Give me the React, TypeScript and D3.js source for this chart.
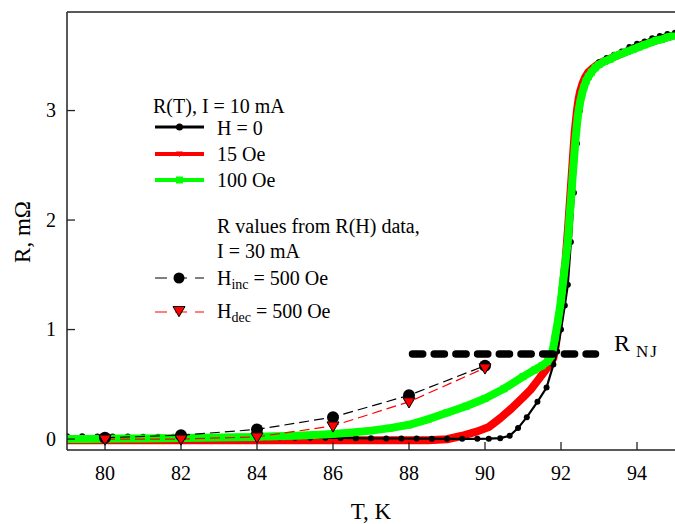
import React from "react";
import * as d3 from "d3";

type P = [number, number];

const xTicks = [80, 82, 84, 86, 88, 90, 92, 94];
const yTicks = [0, 1, 2, 3];

// H = 0, I = 10 mA
const seriesH0: P[] = [
  [79.0, 0.025], [79.4, 0.025], [79.8, 0.024], [80.2, 0.024], [80.6, 0.023], [81.0, 0.022],
  [81.4, 0.022], [81.8, 0.021], [82.2, 0.02], [82.6, 0.019], [83.0, 0.018], [83.4, 0.017],
  [83.8, 0.016], [84.2, 0.015], [84.6, 0.014], [85.0, 0.013], [85.4, 0.012], [85.8, 0.011],
  [86.2, 0.01], [86.6, 0.008], [87.0, 0.007], [87.4, 0.006], [87.8, 0.005], [88.2, 0.004],
  [88.6, 0.003], [89.0, 0.002], [89.4, 0.002], [89.8, 0.002], [90.1, 0.003], [90.4, 0.008],
  [90.65, 0.03], [90.87, 0.1], [91.1, 0.2], [91.38, 0.34], [91.62, 0.47], [91.8, 0.68],
  [91.9, 0.8], [92.0, 1.0], [92.1, 1.22], [92.18, 1.41], [92.26, 1.8], [92.34, 2.25],
  [92.42, 2.7], [92.5, 3.0], [92.6, 3.2], [92.7, 3.3], [92.85, 3.38], [93.0, 3.44],
  [93.2, 3.48], [93.4, 3.51], [93.6, 3.54], [93.8, 3.58], [94.0, 3.61], [94.2, 3.63],
  [94.4, 3.66], [94.6, 3.68], [94.8, 3.7], [95.0, 3.71],
];

// 15 Oe
const series15: P[] = [
  [79.0, -0.012], [79.5, -0.012], [80.0, -0.012], [80.5, -0.012], [81.0, -0.012], [81.5, -0.012],
  [82.0, -0.012], [82.5, -0.012], [83.0, -0.012], [83.5, -0.012], [84.0, -0.012], [84.5, -0.012],
  [85.0, -0.012], [85.5, -0.012], [86.0, -0.012], [86.5, -0.012], [87.0, -0.012], [87.5, -0.012],
  [88.0, -0.012], [88.5, -0.01], [89.0, -0.002], [89.4, 0.03], [89.8, 0.07], [90.1, 0.11],
  [90.4, 0.19], [90.7, 0.28], [91.0, 0.38], [91.2, 0.45], [91.4, 0.54], [91.55, 0.61],
  [91.7, 0.68], [91.8, 0.74], [91.86, 0.85], [91.9, 0.95], [91.94, 1.05], [91.97, 1.14],
  [92.0, 1.23], [92.03, 1.33], [92.06, 1.43], [92.09, 1.53], [92.12, 1.63], [92.14, 1.72],
  [92.16, 1.81], [92.18, 1.9], [92.2, 2.0], [92.22, 2.1], [92.24, 2.2], [92.26, 2.3],
  [92.28, 2.4], [92.3, 2.5], [92.32, 2.6], [92.34, 2.7], [92.36, 2.8], [92.39, 2.9],
  [92.42, 3.0], [92.46, 3.1], [92.5, 3.17], [92.56, 3.24], [92.63, 3.3], [92.72, 3.35],
  [92.85, 3.39], [93.0, 3.43], [93.2, 3.46], [93.4, 3.49], [93.6, 3.52], [93.8, 3.55],
  [94.0, 3.58], [94.2, 3.61], [94.4, 3.63], [94.6, 3.65], [94.8, 3.67], [95.0, 3.69],
];

// 100 Oe
const series100: P[] = [
  [79.0, 0.0], [79.5, 0.001], [80.0, 0.003], [80.5, 0.004], [81.0, 0.006], [81.5, 0.008],
  [82.0, 0.01], [82.5, 0.012], [83.0, 0.014], [83.5, 0.017], [84.0, 0.02], [84.5, 0.025],
  [85.0, 0.03], [85.5, 0.037], [86.0, 0.047], [86.5, 0.06], [87.0, 0.077], [87.5, 0.1],
  [88.0, 0.13], [88.5, 0.18], [89.0, 0.24], [89.5, 0.3], [90.0, 0.37], [90.5, 0.46],
  [91.0, 0.57], [91.3, 0.63], [91.5, 0.67], [91.65, 0.71], [91.74, 0.76], [91.8, 0.84],
  [91.84, 0.92], [91.88, 1.0], [91.92, 1.08], [91.96, 1.17], [92.0, 1.27], [92.03, 1.36],
  [92.06, 1.45], [92.09, 1.54], [92.12, 1.63], [92.15, 1.72], [92.18, 1.81], [92.2, 1.9],
  [92.22, 2.0], [92.24, 2.09], [92.26, 2.18], [92.28, 2.27], [92.3, 2.37], [92.32, 2.46],
  [92.34, 2.55], [92.36, 2.64], [92.38, 2.73], [92.41, 2.84], [92.44, 2.94], [92.47, 3.01],
  [92.5, 3.07], [92.55, 3.15], [92.6, 3.21], [92.66, 3.27], [92.72, 3.31], [92.8, 3.35],
  [92.9, 3.39], [93.0, 3.42], [93.15, 3.45], [93.3, 3.47], [93.45, 3.5], [93.6, 3.52],
  [93.75, 3.54], [93.9, 3.56], [94.05, 3.58], [94.2, 3.6], [94.35, 3.62], [94.5, 3.64],
  [94.65, 3.65], [94.8, 3.67], [94.95, 3.68],
];

// R values from R(H) data, I = 30 mA
const hIncT = [80, 82, 84, 86, 88, 90];
const hIncR = [0.012, 0.035, 0.088, 0.2, 0.4, 0.67];
const hDecT = [80, 82, 84, 86, 88, 90];
const hDecR = [0.0, 0.0, 0.02, 0.12, 0.34, 0.65];

// R_NJ level
const rnjValue = 0.776;
const rnjRange = [88, 93];

const W = 675;
const H = 524;
const left = 67;
const right = 675;
const top = 12;
const bottom = 450;
const FONT = "'Liberation Serif', 'Times New Roman', Times, serif";

export default function App() {
  const x = d3.scaleLinear().domain([79, 95]).range([left, right]);
  const y = d3.scaleLinear().domain([-0.1, 3.9]).range([bottom, top]);
  const line = d3
    .line<P>()
    .x((d) => x(d[0]))
    .y((d) => y(d[1]));

  const inc: P[] = hIncT.map((t, i) => [t, hIncR[i]]);
  const dec: P[] = hDecT.map((t, i) => [t, hDecR[i]]);

  const tri = (cx: number, cy: number, s: number) =>
    `M${cx - s},${cy - s * 0.75}L${cx + s},${cy - s * 0.75}L${cx},${cy + s * 0.95}Z`;

  const legendX1 = 155;
  const legendX2 = 204;
  const legendMid = (legendX1 + legendX2) / 2;
  const textX = 217;

  return (
    <svg
      width={W}
      height={H}
      style={{ position: "absolute", left: 0, top: 0, background: "#fff" }}
      fontFamily={FONT}
    >
      <defs>
        <clipPath id="plot">
          <rect x={left} y={top} width={right - left + 10} height={bottom - top} />
        </clipPath>
      </defs>

      {/* data */}
      <g clipPath="url(#plot)">
        {/* 15 Oe */}
        <path d={line(series15) || ""} fill="none" stroke="#ff0000" strokeWidth={8} strokeLinejoin="round" />
        {series15.map((d, i) => (
          <path key={"r" + i} d={tri(x(d[0]), y(d[1]), 3.2)} fill="#ff0000" />
        ))}
        {/* H = 0 */}
        <path d={line(seriesH0) || ""} fill="none" stroke="#000" strokeWidth={2.2} />
        {seriesH0.map((d, i) => (
          <circle key={"b" + i} cx={x(d[0])} cy={y(d[1])} r={3} fill="#000" />
        ))}
        {/* 100 Oe */}
        <path d={line(series100) || ""} fill="none" stroke="#00ff00" strokeWidth={8} strokeLinejoin="round" />
        {series100.map((d, i) => (
          <rect key={"g" + i} x={x(d[0]) - 3.5} y={y(d[1]) - 3.5} width={7} height={7} fill="#00ff00" />
        ))}
      </g>

      {/* R_NJ */}
      <line
        x1={x(rnjRange[0]) + 3.5}
        x2={x(rnjRange[1]) - 3.5}
        y1={y(rnjValue)}
        y2={y(rnjValue)}
        stroke="#000"
        strokeWidth={7.5}
        strokeLinecap="round"
        strokeDasharray="10.2 11.5"
      />
      <text x={614} y={351} fontSize={24} fill="#000">
        R
      </text>
      <text x={636} y={357} fontSize={17} fill="#000" letterSpacing={2}>
        NJ
      </text>

      {/* R(H) data */}
      <path d={line(inc) || ""} fill="none" stroke="#000" strokeWidth={1.2} strokeDasharray="10 5" />
      <path d={line(dec) || ""} fill="none" stroke="#ff0000" strokeWidth={1.2} strokeDasharray="10 5" />
      {inc.map((d, i) => (
        <circle key={"ci" + i} cx={x(d[0])} cy={y(d[1])} r={6} fill="#000" />
      ))}
      {dec.map((d, i) => (
        <path key={"td" + i} d={tri(x(d[0]), y(d[1]) + 0.5, 6)} fill="#ff0000" stroke="#000" strokeWidth={1} />
      ))}

      {/* axes */}
      <line x1={left} x2={left} y1={top} y2={bottom} stroke="#222" strokeWidth={1.5} />
      <line x1={left} x2={right} y1={bottom} y2={bottom} stroke="#222" strokeWidth={1.5} />
      <line x1={left} x2={right} y1={top} y2={top} stroke="#222" strokeWidth={1.5} />
      {xTicks.map((t) => (
        <g key={"xt" + t}>
          <line x1={x(t)} x2={x(t)} y1={bottom} y2={bottom - 8} stroke="#222" strokeWidth={1.3} />
          <text x={x(t)} y={480} fontSize={20} textAnchor="middle" fill="#000">
            {t}
          </text>
        </g>
      ))}
      {yTicks.map((t) => (
        <g key={"yt" + t}>
          <line x1={left} x2={left + 8} y1={y(t)} y2={y(t)} stroke="#222" strokeWidth={1.3} />
          <text x={56} y={y(t)} dy="0.34em" fontSize={20} textAnchor="end" fill="#000">
            {t}
          </text>
        </g>
      ))}
      <text x={(left + right) / 2} y={519} fontSize={23} textAnchor="middle" fill="#000">
        T, K
      </text>
      <text
        transform={`translate(30, 232) rotate(-90)`}
        fontSize={23}
        textAnchor="middle"
        fill="#000"
      >
        R, mΩ
      </text>

      {/* legend */}
      <g fontSize={20} fill="#000">
        <text x={153} y={113}>R(T), I = 10 mA</text>

        <line x1={legendX1} x2={legendX2} y1={127} y2={127} stroke="#000" strokeWidth={3} />
        <circle cx={legendMid} cy={127} r={3.5} fill="#000" />
        <text x={textX} y={135}>H = 0</text>

        <line x1={legendX1} x2={legendX2} y1={154} y2={154} stroke="#ff0000" strokeWidth={4} />
        <path d={tri(legendMid, 154, 3.5)} fill="#ff0000" />
        <text x={textX} y={161}>15 Oe</text>

        <line x1={legendX1} x2={legendX2} y1={180} y2={180} stroke="#00ff00" strokeWidth={4} />
        <rect x={legendMid - 3.5} y={176.5} width={7} height={7} fill="#00ff00" />
        <text x={textX} y={187}>100 Oe</text>

        <text x={textX} y={233}>R values from R(H) data,</text>
        <text x={textX} y={258}>I = 30 mA</text>

        <line x1={legendX1} x2={legendX2} y1={278} y2={278} stroke="#000" strokeWidth={1.2} strokeDasharray="12 8" />
        <circle cx={179} cy={278} r={5.5} fill="#000" />
        <text x={textX} y={285}>
          H<tspan fontSize={14} dy={4}>inc</tspan>
          <tspan dy={-4}> = 500 Oe</tspan>
        </text>

        <line x1={legendX1} x2={legendX2} y1={312} y2={312} stroke="#ff0000" strokeWidth={1.2} strokeDasharray="12 8" />
        <path d={tri(179, 311, 6)} fill="#ff0000" stroke="#000" strokeWidth={1} />
        <text x={textX} y={318}>
          H<tspan fontSize={14} dy={4}>dec</tspan>
          <tspan dy={-4}> = 500 Oe</tspan>
        </text>
      </g>
    </svg>
  );
}
